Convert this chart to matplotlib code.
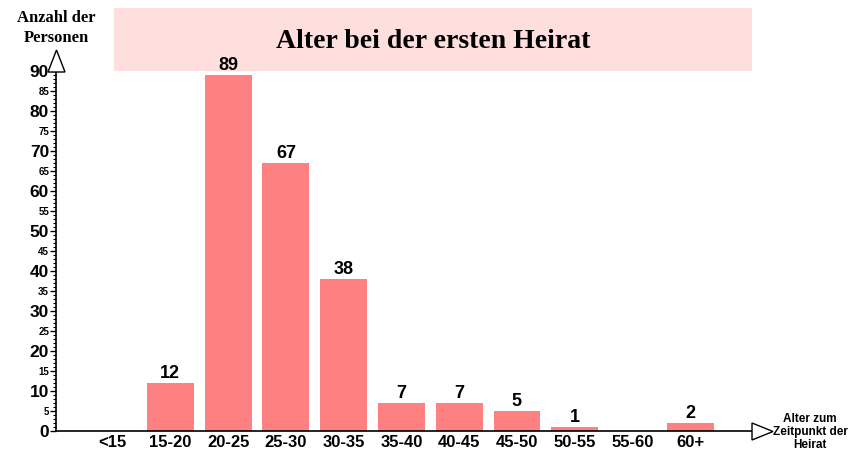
import matplotlib.pyplot as plt
from matplotlib.patches import Rectangle, Polygon

# Daten: Alter bei der ersten Heirat
kategorien = ['<15', '15-20', '20-25', '25-30', '30-35', '35-40',
              '40-45', '45-50', '50-55', '55-60', '60+']
anzahl = [0, 12, 89, 67, 38, 7, 7, 5, 1, 0, 2]

BALKEN_FARBE = '#FF8080'
TITEL_FARBE = '#FFDEDE'
SANS = 'Liberation Sans'
SERIF = 'Liberation Serif'

W, H = 863, 465
fig = plt.figure(figsize=(W / 100, H / 100), dpi=100)

# Achsenbereich in Pixeln der Vorlage
x0, x1, y0, y1 = 56, 752, 431, 71
ax = fig.add_axes([x0 / W, 1 - y0 / H, (x1 - x0) / W, (y0 - y1) / H])

pos = list(range(len(kategorien)))
balken = ax.bar(pos, anzahl, width=0.81, color=BALKEN_FARBE)
ax.bar_label(balken, labels=[str(v) if v else '' for v in anzahl],
             padding=1, fontsize=13, fontweight='bold', family=SANS)

ax.set_xlim(-0.98, 11.07)
ax.set_ylim(0, 90)

for s in ['top', 'right']:
    ax.spines[s].set_visible(False)
for s in ['left', 'bottom']:
    ax.spines[s].set_linewidth(1.2)

ax.set_xticks(pos)
ax.set_xticklabels(kategorien, fontsize=12, fontweight='bold', family=SANS)
ax.tick_params(axis='x', length=0, pad=3)

# y-Achse: Beschriftung alle 5, kleine Striche alle 1
ax.set_yticks(range(0, 91, 5))
ax.set_yticks(range(0, 91, 1), minor=True)
ax.set_yticklabels([str(v) for v in range(0, 91, 5)], fontweight='bold', family=SANS)
for v, lab in zip(range(0, 91, 5), ax.get_yticklabels()):
    lab.set_fontsize(12.5 if v % 10 == 0 else 7)
ax.tick_params(axis='y', which='major', length=4, width=1, pad=1)
ax.tick_params(axis='y', which='minor', length=2, width=0.8)

# Pfeilspitzen an den Achsen (Pixelkoordinaten der Vorlage)
pfeil_y = [(48, 72), (65, 72), (56.5, 50)]
pfeil_x = [(752, 423), (752, 440), (773, 431.5)]
for pts in (pfeil_y, pfeil_x):
    fig.add_artist(Polygon([(px / W, 1 - py / H) for px, py in pts], closed=True,
                           transform=fig.transFigure, facecolor='white',
                           edgecolor='black', linewidth=1))

# Titelbox
fig.add_artist(Rectangle((114 / W, 1 - 71 / H), 638 / W, 63 / H, transform=fig.transFigure,
                         facecolor=TITEL_FARBE, edgecolor='none', zorder=0))
fig.text(433 / W, 1 - 41 / H, 'Alter bei der ersten Heirat', ha='center', va='center',
         fontsize=20, fontweight='bold', family=SERIF)

fig.text(56 / W, 1 - 28 / H, 'Anzahl der\nPersonen', ha='center', va='center',
         fontsize=12, fontweight='bold', family=SERIF, linespacing=1.25)
fig.text(810 / W, 1 - 432 / H, 'Alter zum\nZeitpunkt der\nHeirat', ha='center', va='center',
         fontsize=8.5, fontweight='bold', family=SANS, linespacing=1.15)

fig.savefig('out.png', dpi=100)
